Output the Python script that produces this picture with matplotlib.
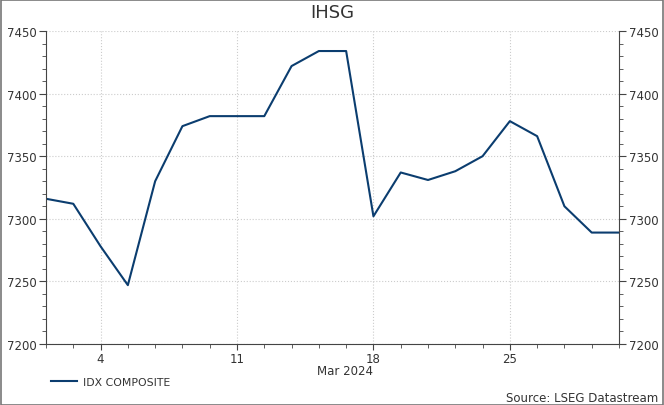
"""IHSG daily close, March 2024 (Datastream-style line chart)."""

import matplotlib

matplotlib.use("Agg")
import matplotlib.pyplot as plt
from matplotlib.patches import Rectangle
from matplotlib.ticker import FixedLocator, MultipleLocator

plt.rcParams["font.family"] = ["DejaVu Sans"]

# business days shown on the axis (Feb 29 .. Mar 29, 2024)
dates = [
    "2024-02-29", "2024-03-01",
    "2024-03-04", "2024-03-05", "2024-03-06", "2024-03-07", "2024-03-08",
    "2024-03-11", "2024-03-12", "2024-03-13", "2024-03-14", "2024-03-15",
    "2024-03-18", "2024-03-19", "2024-03-20", "2024-03-21", "2024-03-22",
    "2024-03-25", "2024-03-26", "2024-03-27", "2024-03-28", "2024-03-29",
]
idx_composite = [
    7316, 7312, 7278, 7247, 7330, 7374, 7382,
    7382, 7382, 7422, 7434, 7434,
    7302, 7337, 7331, 7338, 7350,
    7378, 7366, 7310, 7289, 7289,
]
tick_days = ["4", "11", "18", "25"]
month_label = "Mar 2024"

LINE = "#0b3d6f"
TEXT = "#333333"

W, H = 664, 406
fig = plt.figure(figsize=(W / 100, H / 100), dpi=100)
ax = fig.add_axes([46 / W, 1 - 345 / H, (619 - 46) / W, (345 - 32) / H])

x = list(range(len(dates)))
ax.plot(x, idx_composite, color=LINE, lw=1.5, label="IDX COMPOSITE")

ax.set_xlim(0, len(dates) - 1)
ax.set_ylim(7200, 7450)

major_pos = [i for i, d in enumerate(dates) if d[-2:].lstrip("0") in tick_days]
ax.xaxis.set_major_locator(FixedLocator(major_pos))
ax.set_xticklabels(tick_days)
ax.xaxis.set_minor_locator(MultipleLocator(1))
ax.yaxis.set_major_locator(MultipleLocator(50))
ax.yaxis.set_minor_locator(MultipleLocator(10))

ax.tick_params(axis="both", which="both", colors="#444444", labelcolor=TEXT, labelsize=8.5)
ax.tick_params(axis="y", which="both", left=True, right=True, labelleft=True, labelright=True)
ax.tick_params(axis="y", which="major", length=5, width=0.8, pad=2)
ax.tick_params(axis="y", which="minor", length=3, width=0.6)
ax.tick_params(axis="x", which="major", length=4, width=0.8, pad=1.5)
ax.tick_params(axis="x", which="minor", length=3, width=0.6)

ax.grid(True, which="major", color="#cccccc", ls=":", lw=0.8)
ax.spines["top"].set_visible(False)
for side in ("left", "right", "bottom"):
    ax.spines[side].set_color("#444444")
    ax.spines[side].set_linewidth(0.8)

fig.text(332 / W, 1 - 13 / H, "IHSG", ha="center", va="center", fontsize=13, color=TEXT)
fig.text(345 / W, 1 - 372 / H, month_label, ha="center", va="center", fontsize=8.5, color=TEXT)
fig.text(658 / W, 1 - 399 / H, "Source: LSEG Datastream", ha="right", va="center",
         fontsize=8.5, color=TEXT)

fig.legend(loc="center left", bbox_to_anchor=(51 / W, 1 - 383 / H), frameon=False,
           fontsize=7.8, handlelength=2.4, handletextpad=0.55, borderpad=0,
           borderaxespad=0, labelcolor=TEXT)

fig.add_artist(Rectangle((0.5 / W, 0.5 / H), 1 - 1.5 / W, 1 - 1.5 / H,
                         transform=fig.transFigure, fill=False, ec="#777777", lw=1.2))

fig.savefig("out.png", dpi=100)
